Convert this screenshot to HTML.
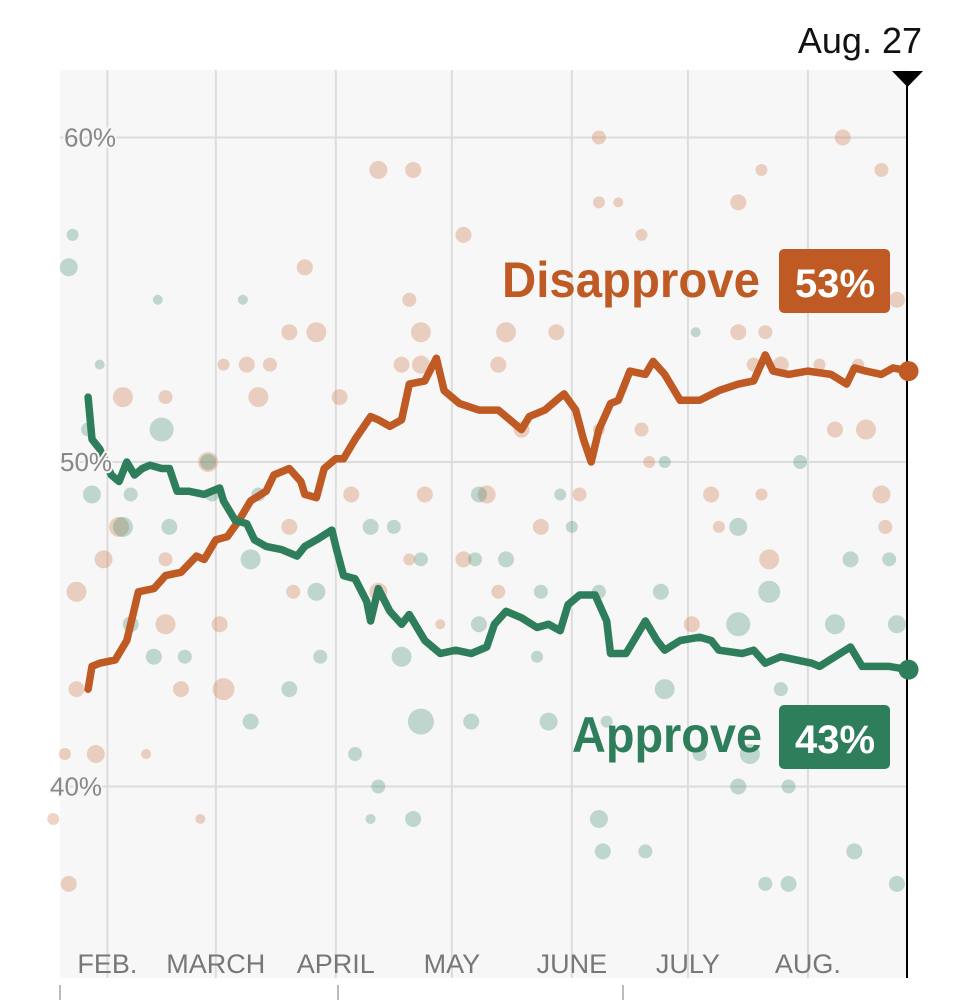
<!DOCTYPE html>
<html><head><meta charset="utf-8">
<style>
html,body{margin:0;padding:0;background:#fff;}
svg{display:block;font-family:"Liberation Sans Narrow","Liberation Sans",sans-serif;}
</style></head>
<body>
<svg id="chart" width="968" height="1000" viewBox="0 0 968 1000" xmlns="http://www.w3.org/2000/svg">
<rect x="60" y="70" width="848" height="908" fill="#f7f7f7"/>
<g id="grid"></g>
<g id="dots"></g>
<g id="lines"></g>
<g id="labels"></g>
</svg>
<script>
// Day offsets are days since Jan 20
const monthNames = ["FEB.","MARCH","APRIL","MAY","JUNE","JULY","AUG."];
const monthDays = [12,40,71,101,132,162,193];
const yTicks = [60,50,40];
const yTickLabels = ["60%","50%","40%"];
const disDays = [7,8,10,14,17,20,24,27,31,35,37,40,43,46,49,53,55,59,62,63,66,68,71,73,76,80,82,85,88,90,94,97,99,103,108,113,116,119,121,125,128,130,133,135,137,139,142,144,147,151,153,156,160,165,170,175,179,182,184,188,193,199,203,205,208,212,215,219];
const disVals = [43.0,43.7,43.8,43.9,44.5,46.0,46.1,46.5,46.6,47.1,47.0,47.6,47.7,48.2,48.8,49.1,49.6,49.8,49.4,49.0,48.9,49.8,50.1,50.1,50.7,51.4,51.3,51.1,51.3,52.4,52.5,53.2,52.2,51.8,51.6,51.6,51.3,51.0,51.4,51.6,51.9,52.1,51.6,50.7,50.0,51.0,51.8,51.9,52.8,52.7,53.1,52.7,51.9,51.9,52.2,52.4,52.5,53.3,52.8,52.7,52.8,52.7,52.4,52.9,52.8,52.7,52.9,52.8];
const appDays = [7,8,10,13,15,17,19,21,23,26,28,30,33,37,41,42,45,48,50,53,57,61,63,66,70,71,73,76,79,80,82,85,88,90,94,98,102,106,110,112,115,119,123,126,129,131,134,138,141,142,146,148,151,154,156,160,165,168,170,176,179,182,186,190,194,196,200,204,207,210,214,219];
const appVals = [52.0,50.7,50.4,49.6,49.4,50.0,49.6,49.8,49.9,49.8,49.8,49.1,49.1,49.0,49.2,48.8,48.2,48.1,47.6,47.4,47.3,47.1,47.4,47.6,47.9,47.4,46.5,46.4,45.7,45.1,46.1,45.4,45.0,45.3,44.5,44.1,44.2,44.1,44.3,45.0,45.4,45.2,44.9,45.0,44.8,45.6,45.9,45.9,45.1,44.1,44.1,44.5,45.1,44.5,44.2,44.5,44.6,44.5,44.2,44.1,44.2,43.8,44.0,43.9,43.8,43.7,44.0,44.3,43.7,43.7,43.7,43.6];
const disPollDays = [82,91,139,202,212,104,181,175,139,150,144,63,90,93,66,59,115,128,175,182,199,216,16,27,51,54,42,48,72,93,88,113,179,186,119,150,208,200,38,75,94,110,134,168,212,15,59,124,213,27,11,183,104,4,41,27,82,163,60,42,31,4,9,1,2,36,22,90,113,181,196,206,139,152,170,98,-2];
const disPollVals = [59,59,60,60,59,57,59,58,58,57,58,56,55,54,54,54,54,54,54,54,55,55,52,52,52,53,53,53,52,53,53,53,53,53,51,51,51,51,50,49,49,49,49,49,49,48,48,48,48,47,47,47,47,46,45,45,46,45,46,43,43,43,41,41,37,39,41,47,46,49,53,53,51,50,48,45,39];
const disPollSizes = [9,8,7,8,7,8,6,8,6,6,5,8,7,10,10,8,10,8,8,7,7,8,10,7,10,7,6,8,8,9,8,8,7,8,8,7,10,8,10,8,8,9,7,8,9,10,8,8,7,7,9,10,8,10,8,10,9,8,7,11,8,8,9,6,8,5,5,6,7,6,6,6,6,6,6,5,6];
const appPollDays = [2,3,25,47,10,26,8,16,38,28,51,108,129,80,86,93,115,124,132,175,191,183,155,139,204,214,216,175,200,108,88,67,59,49,93,106,126,141,156,191,178,165,76,82,175,188,139,91,80,140,151,205,182,188,216,49,66,18,24,32,156,186,39,7,18,164,107,123];
const appPollVals = [56,57,55,55,53,51,49,48,50,48,49,49,49,48,48,47,47,46,48,48,50,46,46,46,47,47,45,45,45,45,44,44,43,42,42,42,42,42,43,42,41,41,41,40,40,40,39,39,39,38,38,38,37,37,37,47,46,45,44,44,50,43,49,51,49,54,47,44];
const appPollSizes = [9,6,5,5,5,12,9,10,8,8,7,8,6,8,7,7,8,7,6,9,7,11,8,7,8,7,9,12,10,8,10,7,8,8,13,8,9,6,10,8,10,7,7,7,8,7,9,8,5,8,7,8,7,8,8,10,9,8,8,7,6,7,7,7,7,5,7,6];

const NS = "http://www.w3.org/2000/svg";
const X0 = 61, PXD = 3.87, Y50 = 462, PXV = 32.45;
function xs(d){ return X0 + d*PXD; }
function ys(v){ return Y50 - (v-50)*PXV; }
function mk(tag, attrs, parent){ const e=document.createElementNS(NS,tag); for(const k in attrs) e.setAttribute(k,attrs[k]); parent.appendChild(e); return e; }
const grid=document.getElementById('grid'), dots=document.getElementById('dots'), lines=document.getElementById('lines'), labels=document.getElementById('labels');

yTicks.forEach((v,i)=>{
  const l=mk('line',{x1:60,x2:908,y1:ys(v),y2:ys(v),stroke:'#dcdcdc','stroke-width':2},grid);
  
  
});
monthDays.forEach((d,i)=>{
  const l=mk('line',{x1:xs(d),x2:xs(d),y1:70,y2:978,stroke:'#dcdcdc','stroke-width':2},grid);
  
  
  const t=mk('text',{x:xs(d),y:973,'text-anchor':'middle','font-size':27,fill:'#777','font-family':'Liberation Sans, sans-serif'},labels);
  t.textContent=monthNames[i];
  
  
});
[60,338,623].forEach(x=>{
  const l=mk('line',{x1:x,x2:x,y1:985,y2:1000,stroke:'#bbb','stroke-width':2},grid);
  
  
});
yTicks.forEach((v,i)=>{
  const t=mk('text',{x:[64,60,50][i],y:ys(v)+9,'font-size':26,fill:'#888','font-family':'Liberation Sans, sans-serif',stroke:'#f7f7f7','stroke-width':4,'paint-order':'stroke'},labels);
  t.textContent=yTickLabels[i];
  
  
});

disPollDays.forEach((d,i)=>{
  const c=mk('circle',{cx:xs(d),cy:ys(disPollVals[i]),r:disPollSizes[i],fill:'rgba(205,120,75,0.33)'},dots);
  
  
});
appPollDays.forEach((d,i)=>{
  const c=mk('circle',{cx:xs(d),cy:ys(appPollVals[i]),r:appPollSizes[i],fill:'rgba(60,140,110,0.3)'},dots);
  
  
});

function path(days, vals){ return days.map((d,i)=>(i?'L':'M')+xs(d).toFixed(1)+','+ys(vals[i]).toFixed(1)).join(''); }
const DIS='#bf5a24', APP='#2e7d5b';
const pd=mk('path',{d:path(disDays,disVals),fill:'none',stroke:DIS,'stroke-width':7.5,'stroke-linejoin':'round','stroke-linecap':'round'},lines);


const pa=mk('path',{d:path(appDays,appVals),fill:'none',stroke:APP,'stroke-width':7.5,'stroke-linejoin':'round','stroke-linecap':'round'},lines);



const vl=mk('line',{x1:907,x2:907,y1:72,y2:978,stroke:'#000','stroke-width':2},lines);


const tri=mk('path',{d:'M892,71 L923,71 L907.5,87 Z',fill:'#000'},lines);


const ed=mk('circle',{cx:xs(disDays[disDays.length-1]),cy:ys(disVals[disVals.length-1]),r:10,fill:DIS},lines);


const ea=mk('circle',{cx:xs(appDays[appDays.length-1]),cy:ys(appVals[appVals.length-1]),r:10,fill:APP},lines);



const dt=mk('text',{x:922,y:53,'text-anchor':'end','font-size':36,fill:'#111','font-family':'Liberation Sans, sans-serif'},labels);
dt.textContent='Aug. 27';



const dl=mk('text',{x:502,y:297,'font-size':50,'font-weight':'bold',fill:DIS,textLength:258,lengthAdjust:'spacingAndGlyphs'},labels);
dl.textContent='Disapprove';


const db=mk('rect',{x:779,y:249,width:111,height:64,rx:5,fill:DIS},labels);


const dv=mk('text',{x:835,y:297,'text-anchor':'middle','font-size':40,'font-weight':'bold',fill:'#fff'},labels);
dv.textContent='53%';



const al=mk('text',{x:572,y:752,'font-size':50,'font-weight':'bold',fill:APP,textLength:190,lengthAdjust:'spacingAndGlyphs'},labels);
al.textContent='Approve';


const ab=mk('rect',{x:779,y:705,width:111,height:64,rx:5,fill:APP},labels);


const av=mk('text',{x:835,y:753,'text-anchor':'middle','font-size':40,'font-weight':'bold',fill:'#fff'},labels);
av.textContent='43%';


</script>
</body></html>
